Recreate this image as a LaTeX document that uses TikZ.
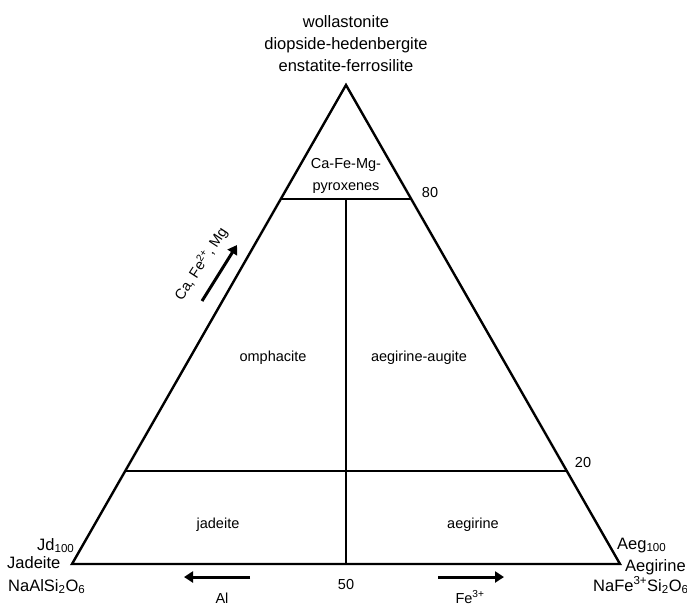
\documentclass[tikz,border=0pt]{standalone}
\usepackage{fontspec}
\setmainfont{Liberation Sans}
\usetikzlibrary{arrows.meta,calc}
\begin{document}
\begin{tikzpicture}[x=1pt,y=-1pt,
  edge/.style={line width=2.4pt, line join=miter},
  divider/.style={line width=2pt},
  big/.style={font=\fontsize{16.5}{20}\selectfont, inner sep=0pt},
  lab/.style={font=\fontsize{14.5}{18}\selectfont, inner sep=0pt},
  arr/.style={line width=3pt, -{Triangle[length=9pt,width=11pt]}}
]
\useasboundingbox (0,0) rectangle (687,606);
% corners
\coordinate (A) at (72,564);
\coordinate (B) at (620,564);
\coordinate (C) at (346,85);
\coordinate (T1) at ($(C)!0.238!(A)$);
\coordinate (T2) at ($(C)!0.238!(B)$);
\coordinate (L1) at ($(C)!0.806!(A)$);
\coordinate (L2) at ($(C)!0.806!(B)$);
\coordinate (M1) at (346,199);
\coordinate (M2) at (346,564);
% triangle and dividers
\draw[edge] (A) -- (B) -- (C) -- cycle;
\draw[divider] (T1) -- (T2);
\draw[divider] (L1) -- (L2);
\draw[divider] (M1) -- (M2);
% top labels
\node[big, anchor=base] (t1) at (346,27) {wollastonite};
\node[big, anchor=base] (t2) at (346,49.5) {diopside-hedenbergite};
\node[big, anchor=base] (t3) at (346,71) {enstatite-ferrosilite};
% field labels
\node[lab, anchor=base] (f1) at (346,168) {Ca-Fe-Mg-};
\node[lab, anchor=base] (f2) at (346,190.5) {pyroxenes};
\node[lab, anchor=base] (om) at (273,361) {omphacite};
\node[lab, anchor=base] (aa) at (419,361) {aegirine-augite};
\node[lab, anchor=base] (jd) at (218,528) {jadeite};
\node[lab, anchor=base] (ae) at (473,528) {aegirine};
% scale numbers
\node[lab, anchor=base] (n80) at (430,197) {80};
\node[lab, anchor=base] (n20) at (583,467) {20};
\node[lab, anchor=base] (n50) at (346,589.5) {50};
% corner labels
\node[big, anchor=base west] (jd100) at (37,550) {Jd\textsubscript{100}};
\node[big, anchor=base west] (jdn) at (7,568) {Jadeite};
\node[big, anchor=base west] (jdf) at (8,591) {NaAlSi\textsubscript{2}O\textsubscript{6}};
\node[big, anchor=base west] (ae100) at (617,549) {Aeg\textsubscript{100}};
\node[big, anchor=base west] (aen) at (625,571) {Aegirine};
\node[big, anchor=base west] (aef) at (593,591) {NaFe\textsuperscript{3+}Si\textsubscript{2}O\textsubscript{6}};
% bottom arrows
\coordinate (al0) at (250,577);
\coordinate (al1) at (184,577);
\coordinate (fe0) at (438,577);
\coordinate (fe1) at (504,577);
\draw[arr] (al0) -- (al1);
\draw[arr] (fe0) -- (fe1);
\node[lab, anchor=base] (al) at (222,603) {Al};
\node[lab, anchor=base] (fe) at (470,603) {Fe\textsuperscript{3+}};
% side arrow
\coordinate (s0) at (202,301);
\coordinate (s1) at (237,245);
\draw[arr] (s0) -- (s1);
\node[lab, rotate=57] (side) at (201,264) {Ca, Fe\textsuperscript{2+}, Mg};
\end{tikzpicture}
\end{document}
